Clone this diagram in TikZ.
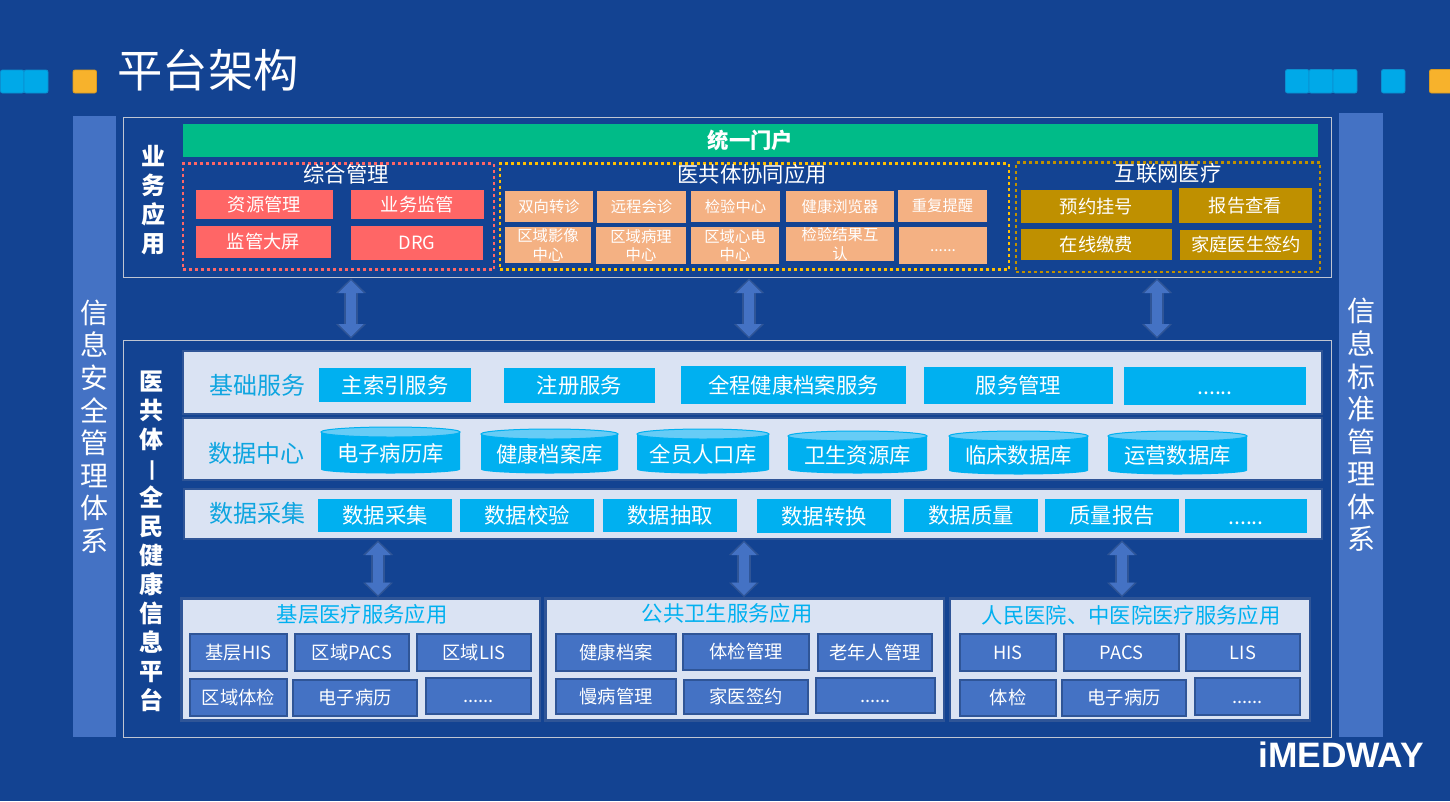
\documentclass[tikz,border=0pt]{standalone}
\usepackage{fontspec}
\setmainfont{Noto Sans CJK SC}
\newfontfamily\logofont{Liberation Sans}
\usetikzlibrary{arrows.meta}
\definecolor{bgblue}{HTML}{134392}
\definecolor{midblue}{HTML}{4472C4}
\definecolor{edgeblue}{HTML}{2F5597}
\definecolor{cyanbox}{HTML}{00B0F0}
\definecolor{cyantop}{HTML}{66CCF6}
\definecolor{labelblue}{HTML}{0EA5E0}
\definecolor{panelfill}{HTML}{DAE3F3}
\definecolor{redbox}{HTML}{FF6666}
\definecolor{peach}{HTML}{F4B183}
\definecolor{goldbox}{HTML}{BF9000}
\definecolor{yellowdot}{HTML}{FFC000}
\definecolor{greenbar}{HTML}{00BB88}
\definecolor{framegrey}{HTML}{BFC5D2}
\definecolor{sqblue}{HTML}{00A9E8}
\definecolor{sqedge}{HTML}{0B8FD0}
\definecolor{sqorange}{HTML}{F7B22C}
\definecolor{sqoedge}{HTML}{D99A20}
\tikzset{
  core/.style={inner sep=0pt,outer sep=0pt,text=white},
  base/.style={core},
  multi/.style={core,align=center},
  fs/.code={\pgfmathsetmacro\thh{.76*#1}\edef\tmpk{\noexpand\tikzset{text height=\thh pt,text depth=0pt}}\tmpk\tikzset{font=\fontsize{#1}{#1}\selectfont}},
  frame/.style={core,draw=framegrey,line width=.75pt},
  sidebar/.style={multi,fill=midblue,font=\fontsize{21}{24.4}\selectfont},
  green/.style={base,fill=greenbar,fs=16,font=\fontsize{16}{19}\selectfont\bfseries},
  dotbox/.style={core,draw=#1,line width=2pt,dash pattern=on 2.25pt off 2.25pt},
  redb/.style={base,fill=redbox,fs=13.7},
  peachb/.style={base,fill=peach,fs=11.5},
  peachm/.style={multi,fill=peach,font=\fontsize{11.5}{13.75}\selectfont},
  goldb/.style={base,fill=goldbox,fs=13.7},
  panel/.style={core,fill=panelfill,draw=edgeblue,line width=1.8pt},
  cyanb/.style={base,fill=cyanbox,fs=16},
  blueb/.style={base,fill=midblue,draw=edgeblue,line width=1.8pt,fs=13.7},
  head/.style={base,text=white,fs=16},
  phead/.style={base,text=labelblue,fs=18},
  shead/.style={base,text=cyanbox,fs=16},
  vlabel/.style={multi,font=\fontsize{18}{21.75}\selectfont\bfseries},
  sq/.style={fill=sqblue,draw=sqedge,line width=.6pt,rounded corners=1.5pt},
  sqo/.style={fill=sqorange,draw=sqoedge,line width=.6pt,rounded corners=1.5pt},
}
\newcommand\bx[7]{\node[#6,minimum width={(#4-#2)*.75pt},minimum height={(#5-#3)*.75pt}] (#1) at ({(#2+#4)/2},{(#3+#5)/2}) {#7};}
\newcommand\cyl[6]{%
  \pgfmathsetmacro\rxx{(#4-#2)*.375}%
  \fill[cyanbox] (#2,#3+5) -- (#2,#5-3.5) arc[start angle=180,end angle=360,x radius=\rxx pt,y radius=3pt]
     -- (#4,#3+5) arc[start angle=0,end angle=180,x radius=\rxx pt,y radius=3.75pt] -- cycle;
  \draw[fill=cyantop,draw=cyanbox,line width=.75pt] ({(#2+#4)/2},#3+5) ellipse[x radius=\rxx pt,y radius=3.75pt];
  \node[base,fs=16] (#1) at ({(#2+#4)/2},{(#3+#5)/2+3}) {#6};}
\newcommand\blockarrow[3]{%
  \draw[edgeblue,line width=10pt,{Triangle[length=11pt,width=22pt]}-{Triangle[length=11pt,width=22pt]},shorten <=1pt,shorten >=1pt] (#1 |- #2.south) -- (#1 |- #3.north);
  \draw[midblue,line width=8pt,{Triangle[length=9.5pt,width=18.5pt]}-{Triangle[length=9.5pt,width=18.5pt]},shorten <=2.5pt,shorten >=2.5pt] (#1 |- #2.south) -- (#1 |- #3.north);}
\begin{document}
\begin{tikzpicture}[x=.75pt,y=-.75pt]
\useasboundingbox (0,0) rectangle (1450,801);
\fill[bgblue] (0,0) rectangle (1450,801);
% corner squares
\draw[sq] (0.5,70) rectangle (24,93);
\draw[sq] (24,70) rectangle (48,93);
\draw[sqo] (73,70) rectangle (96.5,93);
\draw[sq] (1285.5,69.5) rectangle (1309,93);
\draw[sq] (1309,69.5) rectangle (1333,93);
\draw[sq] (1333,69.5) rectangle (1357,93);
\draw[sq] (1381.5,69.5) rectangle (1405,93);
\draw[sqo] (1429.5,69.5) rectangle (1453,93);
\node[base,fs=34] (title) at (208,70) {平台架构};
% side bars
\bx{leftbar}{73}{116}{116}{737}{sidebar}{信\\息\\安\\全\\管\\理\\体\\系}
\bx{rightbar}{1339}{113}{1383}{737}{sidebar}{信\\息\\标\\准\\管\\理\\体\\系}
% outer frames
\bx{top}{123}{117}{1331}{277}{frame}{}
\bx{platform}{123}{340}{1331}{737}{frame}{}
\node[vlabel] (toplabel) at (153,200) {业\\务\\应\\用};
\node[vlabel] (platlabel) at (151,541) {医\\共\\体\\\smash{\makebox[0pt]{\hspace*{.34em}\raisebox{.1em}{\rotatebox[origin=c]{90}{—}}}}\\全\\民\\健\\康\\信\\息\\平\\台};
% business row
\bx{portal}{183}{124}{1318}{157}{green}{统一门户}
\bx{zonghe}{183}{163.5}{494}{269.5}{dotbox=redbox}{}
\bx{yigong}{500}{163.5}{1009}{269.5}{dotbox=yellowdot}{}
\bx{hulian}{1016}{162.5}{1320}{272}{dotbox=goldbox}{}
\node[head] (zh) at (346,174) {综合管理};
\node[head] (yg) at (752,174) {医共体协同应用};
\node[head] (hl) at (1168,173) {互联网医疗};
\bx{r1}{196}{190}{333}{219}{redb}{资源管理}
\bx{r2}{351}{190}{484}{219}{redb}{业务监管}
\bx{r3}{196}{226}{331}{258}{redb}{监管大屏}
\bx{r4}{351}{226}{483}{260}{redb}{DRG}
\bx{p1}{505}{191}{593}{222}{peachb}{双向转诊}
\bx{p2}{597}{191}{686}{223}{peachb}{远程会诊}
\bx{p3}{691}{191}{780}{222}{peachb}{检验中心}
\bx{p4}{786}{191}{894}{222}{peachb}{健康浏览器}
\bx{p5}{898}{190}{987}{222}{peachb}{重复提醒}
\bx{p6}{505}{227}{591}{263}{peachm}{区域影像\\中心}
\bx{p7}{596}{227}{686}{264}{peachm}{区域病理\\中心}
\bx{p8}{691}{227}{779}{264}{peachm}{区域心电\\中心}
\bx{p9}{786}{227}{894}{261}{peachm}{检验结果互\\认}
\bx{p10}{899}{227}{987}{264}{peachb}{......}
\bx{g1}{1021}{190}{1172}{223}{goldb}{预约挂号}
\bx{g2}{1179}{188}{1312}{223}{goldb}{报告查看}
\bx{g3}{1021}{229}{1172}{260}{goldb}{在线缴费}
\bx{g4}{1180}{230}{1312}{260}{goldb}{家庭医生签约}
% platform panels
\bx{pa}{183}{351}{1322}{414}{panel}{}
\bx{pb}{183}{418}{1322}{480}{panel}{}
\bx{pc}{184}{489}{1322}{539}{panel}{}
\node[phead] (la) at (257,385) {基础服务};
\node[phead] (lb) at (256,453) {数据中心};
\node[phead] (lc) at (257,513) {数据采集};
\bx{a1}{319}{368}{471}{402}{cyanb}{主索引服务}
\bx{a2}{504}{368}{655}{403}{cyanb}{注册服务}
\bx{a3}{681}{366}{906}{404}{cyanb}{全程健康档案服务}
\bx{a4}{924}{367}{1113}{404}{cyanb}{服务管理}
\bx{a5}{1124}{367}{1306}{405}{cyanb}{......}
\cyl{b1}{321}{427}{460}{473}{电子病历库}
\cyl{b2}{481}{429}{618}{473}{健康档案库}
\cyl{b3}{637}{429}{769}{473}{全员人口库}
\cyl{b4}{788}{431}{927}{473}{卫生资源库}
\cyl{b5}{949}{431}{1088}{474}{临床数据库}
\cyl{b6}{1108}{431}{1247}{474}{运营数据库}
\bx{c1}{318}{499}{452}{532}{cyanb}{数据采集}
\bx{c2}{460}{499}{594}{532}{cyanb}{数据校验}
\bx{c3}{603}{499}{737}{532}{cyanb}{数据抽取}
\bx{c4}{757}{499}{891}{533}{cyanb}{数据转换}
\bx{c5}{904}{499}{1038}{532}{cyanb}{数据质量}
\bx{c6}{1045}{499}{1179}{532}{cyanb}{质量报告}
\bx{c7}{1185}{499}{1307}{533}{cyanb}{......}
% source panels
\bx{sa}{181.5}{598.5}{540}{720.5}{panel}{}
\bx{sb}{545.5}{598.5}{944}{720.5}{panel}{}
\bx{sc}{950}{598.5}{1310}{720.5}{panel}{}
\node[shead] (sal) at (362,614) {基层医疗服务应用};
\node[shead] (sbl) at (727,613) {公共卫生服务应用};
\node[shead] (scl) at (1131,615) {人民医院、中医院医疗服务应用};
\bx{s1}{190}{634}{287}{671}{blueb}{基层HIS}
\bx{s2}{295}{634}{409}{671}{blueb}{区域PACS}
\bx{s3}{417}{634}{531}{671}{blueb}{区域LIS}
\bx{s4}{190}{679}{287}{716}{blueb}{区域体检}
\bx{s5}{293}{680}{417}{716}{blueb}{电子病历}
\bx{s6}{426}{678}{531}{714}{blueb}{......}
\bx{t1}{556}{634}{676}{671}{blueb}{健康档案}
\bx{t2}{683}{634}{809}{670}{blueb}{体检管理}
\bx{t3}{818}{634}{932}{671}{blueb}{老年人管理}
\bx{t4}{556}{679}{676}{714}{blueb}{慢病管理}
\bx{t5}{684}{680}{808}{714}{blueb}{家医签约}
\bx{t6}{816}{678}{935}{713}{blueb}{......}
\bx{u1}{960}{634}{1056}{671}{blueb}{HIS}
\bx{u2}{1064}{634}{1179}{671}{blueb}{PACS}
\bx{u3}{1186}{634}{1300}{671}{blueb}{LIS}
\bx{u4}{960}{680}{1056}{716}{blueb}{体检}
\bx{u5}{1062}{680}{1186}{716}{blueb}{电子病历}
\bx{u6}{1195}{678}{1300}{715}{blueb}{......}
% connectors
\coordinate (x1) at (351,0);
\coordinate (x2) at (749,0);
\coordinate (x3) at (1157,0);
\coordinate (x4) at (378,0);
\coordinate (x5) at (744,0);
\coordinate (x6) at (1122,0);
\blockarrow{x1}{top}{platform}
\blockarrow{x2}{top}{platform}
\blockarrow{x3}{top}{platform}
\blockarrow{x4}{pc}{sa}
\blockarrow{x5}{pc}{sb}
\blockarrow{x6}{pc}{sc}
\node[base,text height=19pt,text depth=0pt,font=\logofont\fontsize{26.5}{30}\selectfont\bfseries] (logo) at (1341,754.5) {iMEDWAY};
\end{tikzpicture}
\end{document}
